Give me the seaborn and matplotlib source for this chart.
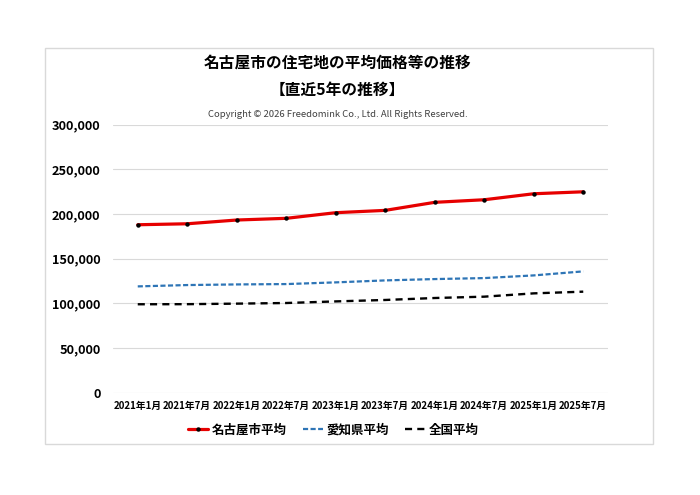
import matplotlib
matplotlib.use("Agg")
import matplotlib.pyplot as plt
from matplotlib.patches import Rectangle
import seaborn as sns
import pandas as pd

categories = ["2021年1月", "2021年7月", "2022年1月", "2022年7月", "2023年1月",
              "2023年7月", "2024年1月", "2024年7月", "2025年1月", "2025年7月"]
nagoya = [188000, 189100, 193300, 195200, 201500, 204100, 213100, 216000, 222700, 224900]
aichi = [119000, 120500, 121200, 121600, 123500, 125700, 127200, 128300, 131300, 135800]
zenkoku = [99000, 99100, 99700, 100400, 102200, 103800, 106000, 107500, 111200, 113100]
series_names = ["名古屋市平均", "愛知県平均", "全国平均"]
yticks = [0, 50000, 100000, 150000, 200000, 250000, 300000]

sns.set_theme(style="white")
plt.rcParams["font.family"] = ["Noto Sans CJK JP", "DejaVu Sans"]
plt.rcParams["text.color"] = "black"
plt.rcParams["xtick.color"] = "black"
plt.rcParams["ytick.color"] = "black"

fig = plt.figure(figsize=(7, 4.95), dpi=100)
ax = fig.add_axes([113/700, 1-392.7/495, (608-113)/700, (392.7-124.7)/495])

fig.patches.append(Rectangle((45/700, 1-444/495), 608/700, 396/495,
                             transform=fig.transFigure, fill=False,
                             edgecolor="#D9D9D9", linewidth=1.0, zorder=0))

df = pd.DataFrame({"x": categories, "n": nagoya, "a": aichi, "z": zenkoku})

sns.lineplot(data=df, x="x", y="a", ax=ax, color="#2E75B6", linewidth=1.6,
             label=series_names[1], sort=False)
sns.lineplot(data=df, x="x", y="z", ax=ax, color="black", linewidth=1.7,
             label=series_names[2], sort=False)
sns.lineplot(data=df, x="x", y="n", ax=ax, color="#E60000", linewidth=2.3,
             marker="o", markersize=3.2, markerfacecolor="black",
             markeredgecolor="black", markeredgewidth=0, label=series_names[0], sort=False)

lines = ax.get_lines()
lines[0].set_dashes([2.3, 1.1])
lines[1].set_dashes([3.0, 2.2])

ax.set_xlim(-0.5, len(categories) - 0.5)
ax.set_ylim(0, 300000)
ax.set_yticks(yticks)
ax.set_yticklabels([f"{v:,}" for v in yticks], fontsize=9.2, fontweight="bold")
ax.set_xticks(range(len(categories)))
ax.set_xticklabels(categories, fontsize=7, fontweight="bold")
ax.tick_params(axis="y", length=0, pad=9)
ax.tick_params(axis="x", length=0, pad=6)
ax.set_xlabel("")
ax.set_ylabel("")
ax.grid(axis="y", color="#D9D9D9", linewidth=0.8)
for s in ax.spines.values():
    s.set_visible(False)

h, l = ax.get_legend_handles_labels()
order = [2, 0, 1]
ax.legend([h[i] for i in order], [l[i] for i in order], loc="center",
          bbox_to_anchor=(333.5/700, 1-430/495), bbox_transform=fig.transFigure,
          ncol=3, frameon=False, handlelength=1.6, handletextpad=0.3,
          columnspacing=1.3, prop={"size": 9, "weight": "bold"})

fig.text(337.5/700, 1-63/495, "名古屋市の住宅地の平均価格等の推移", ha="center", va="center",
         fontsize=11.3, fontweight="bold")
fig.text(337.5/700, 1-90/495, "【直近5年の推移】", ha="center", va="center",
         fontsize=11.3, fontweight="bold")
fig.text(337.5/700, 1-115/495, "Copyright © 2026 Freedomink Co., Ltd. All Rights Reserved.",
         ha="center", va="center", fontsize=6.8, color="#404040")

fig.savefig("out.png", dpi=100, facecolor="white")
